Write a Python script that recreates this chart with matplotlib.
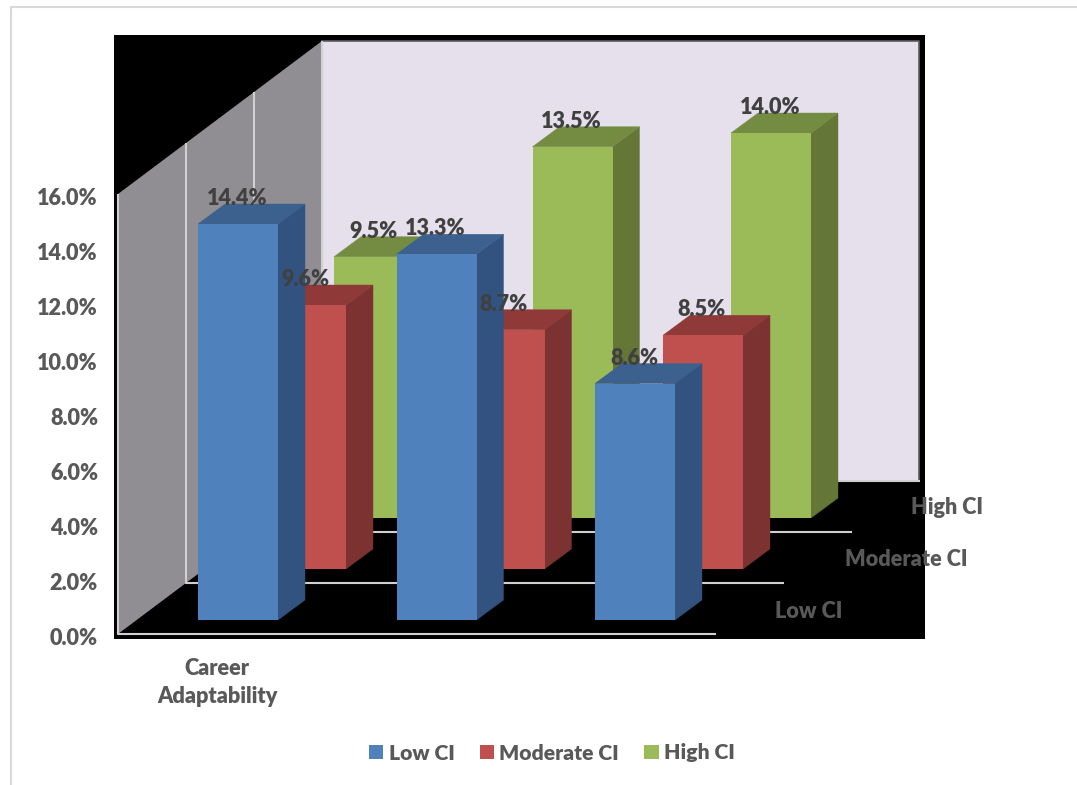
import matplotlib
matplotlib.use('Agg')
import matplotlib.pyplot as plt
from matplotlib.lines import Line2D
from matplotlib.patches import Patch, Polygon
from matplotlib.transforms import ScaledTranslation

plt.rcParams['font.family'] = ['Lato', 'DejaVu Sans']
plt.rcParams['font.weight'] = 'heavy'

category = 'Career\nAdaptability'
series = ['Low CI', 'Moderate CI', 'High CI']
low_ci = [14.4, 13.3, 8.6]
moderate_ci = [9.6, 8.7, 8.5]
high_ci = [9.5, 13.5, 14.0]
y_ticks = [0, 2, 4, 6, 8, 10, 12, 14, 16]

W, H = 1077, 785
PX_PER_PCT = 27.5
ROW_DX, ROW_DY = 68, 51 / PX_PER_PCT   # shift from one depth row to the next
BAR_W = 80
BAR_DX, BAR_DY = 27, 20 / PX_PER_PCT   # depth of one bar
BAR_X0 = 198
BAR_STEP = 198.5
BAR_BASE = 14 / PX_PER_PCT
WALL_LEFT = 118
N_ROWS = 3
FS = 15.6

colors = {
    'Low CI': ('#4F81BD', '#3C618F', '#325380'),
    'Moderate CI': ('#C0504D', '#8F3A38', '#7B3230'),
    'High CI': ('#9BBB59', '#748C42', '#657737'),
}
values = {'Low CI': low_ci, 'Moderate CI': moderate_ci, 'High CI': high_ci}
depth_label_pos = {'Low CI': (809, 611), 'Moderate CI': (906, 560), 'High CI': (947, 508)}

fig = plt.figure(figsize=(W / 100, H / 100), dpi=100)
fig.patch.set_facecolor('white')

# page frame along the top and left
fig.add_artist(Line2D([10.5 / W, 10.5 / W, 1], [0, 1 - 6.5 / H, 1 - 6.5 / H], color='#D9D9D9', lw=1.5))

ax = fig.add_axes([114 / W, (H - 639) / H, (925 - 114) / W, (639 - 35) / H], facecolor='black')
ax.set_xlim(114, 925)
ax.set_ylim(-5 / PX_PER_PCT, 599 / PX_PER_PCT)
for s in ax.spines.values():
    s.set_visible(False)

top = y_ticks[-1]
back_x = WALL_LEFT + N_ROWS * ROW_DX
back_y = N_ROWS * ROW_DY

# side wall and back wall
ax.add_patch(Polygon([(WALL_LEFT, 0), (WALL_LEFT, top), (back_x, back_y + top), (back_x, back_y)],
                     fc='#918E93', ec='none', zorder=1))
ax.add_patch(Polygon([(back_x, back_y), (back_x, back_y + top), (919, back_y + top), (919, back_y)],
                     fc='#E6E0EC', ec='none', zorder=1))
ax.plot([back_x, 918.5, 918.5], [back_y + top, back_y + top, back_y], color='#5E5C60', lw=1.2, zorder=1.2)

# depth gridlines: up the side wall, then across the floor
for r in range(N_ROWS + 1):
    x = WALL_LEFT + r * ROW_DX
    y = r * ROW_DY
    ax.plot([x, x, x + 597.5], [y + top, y, y], color='#D0D0D0', lw=1.5, zorder=1.5, solid_capstyle='butt')

# back row first so the nearer bars cover it
for r in reversed(range(N_ROWS)):
    name = series[r]
    front, roof, side = colors[name]
    base = BAR_BASE + r * ROW_DY
    z = 5 + (N_ROWS - r)
    for i, v in enumerate(values[name]):
        x = BAR_X0 + i * BAR_STEP + r * ROW_DX
        ytop = base + v
        ax.add_patch(Polygon([(x + BAR_W, base), (x + BAR_W, ytop), (x + BAR_W + BAR_DX, ytop + BAR_DY),
                              (x + BAR_W + BAR_DX, base + BAR_DY)], fc=side, ec=side, lw=0.3, zorder=z))
        ax.add_patch(Polygon([(x, ytop), (x + BAR_W, ytop), (x + BAR_W + BAR_DX, ytop + BAR_DY),
                              (x + BAR_DX, ytop + BAR_DY)], fc=roof, ec=roof, lw=0.3, zorder=z))
        ax.bar(x, v, width=BAR_W, bottom=base, align='edge', color=front, zorder=z)
        ax.text(x + BAR_W / 2 - 1, ytop + BAR_DY + 5.5 / PX_PER_PCT, '%.1f%%' % v, ha='center', va='center',
                fontsize=FS, color='#404040', zorder=20)

for name in series:
    px, py = depth_label_pos[name]
    ax.text(px, (634 - py) / PX_PER_PCT, name, ha='center', va='center', fontsize=FS, color='#595959',
            zorder=20, clip_on=False)

ax.set_yticks(y_ticks)
ax.set_yticklabels(['%.1f%%' % t for t in y_ticks], fontsize=FS, color='#595959')
ax.tick_params(axis='y', length=0, pad=11.5)
shift = ScaledTranslation(0, -2.5 / 100, fig.dpi_scale_trans)
for lab in ax.get_yticklabels():
    lab.set_transform(lab.get_transform() + shift)

ax.set_xticks([217])
ax.set_xticklabels([category], fontsize=FS, color='#595959', linespacing=1.4)
ax.tick_params(axis='x', length=0, pad=14)

handles = [Patch(facecolor=colors[n][0], label=n) for n in series]
fig.legend(handles=handles, ncol=3, loc='center', bbox_to_anchor=(552 / W, 1 - 753 / H), frameon=False,
           fontsize=15.2, labelcolor='#595959', handlelength=0.67, handleheight=0.67, handletextpad=0.25,
           columnspacing=1.2)

fig.savefig('out.png', dpi=100)
